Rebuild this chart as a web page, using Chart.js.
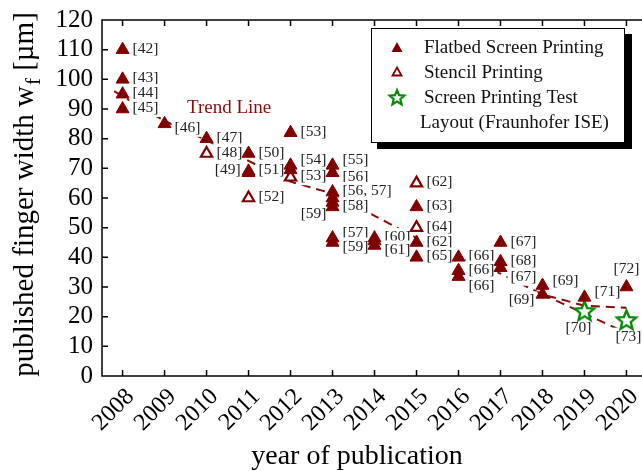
<!DOCTYPE html>
<html>
<head>
<meta charset="utf-8">
<script src="https://cdn.jsdelivr.net/npm/chart.js@4"></script>
<style>
  html, body { margin: 0; padding: 0; background: #fff; }
</style>
</head>
<body>
<canvas id="chart" width="642" height="471"></canvas>
<script>
const yearTicks = [2008, 2009, 2010, 2011, 2012, 2013, 2014, 2015, 2016, 2017, 2018, 2019, 2020];
const widthTicks = [0, 10, 20, 30, 40, 50, 60, 70, 80, 90, 100, 110, 120];

// flatbed screen printing (filled triangles)
const flatbedYear = [2008, 2008, 2008, 2008, 2009, 2010, 2011, 2011, 2011, 2012, 2012, 2012,
  2013, 2013, 2013, 2013, 2013, 2013, 2013, 2013, 2014, 2014, 2014, 2015, 2015, 2015,
  2016, 2016, 2016, 2017, 2017, 2017, 2018, 2018, 2019, 2020];
const flatbedWidth = [110, 100, 95, 90, 85, 80, 75, 69, 68.5, 82, 71, 69.5,
  71, 68.5, 62, 60, 58.5, 57, 46.5, 45, 46.5, 45.5, 44, 57, 45, 40,
  40, 35.5, 33.5, 45, 38.5, 36.5, 30.5, 27.5, 26.5, 30];
const flatbedRef = ['[42]', '[43]', '[44]', '[45]', '[46]', '[47]', '[50]', '[51]', '[49]', '[53]', '[54]', '',
  '[55]', '[56]', '[56, 57]', '', '[59]', '[58]', '[57]', '[59]', '[60]', '', '[61]', '[63]', '[62]', '[65]',
  '[66]', '[66]', '[66]', '[67]', '[68]', '[67]', '[69]', '[69]', '[71]', '[72]'];
const flatbedSide = ['r', 'r', 'r', 'r', 'rd', 'r', 'r', 'r', 'lu', 'r', 'ru', 'r',
  'ru', 'rd', 'r', 'r', 'lb', 'r', 'ru', 'rd', 'r', 'r', 'rd', 'r', 'r', 'r',
  'r', 'r', 'rb', 'r', 'r', 'rb', 'ru', 'ld', 'ru', 't'];

// stencil printing (open triangles)
const stencilYear = [2010, 2011, 2012, 2015, 2015];
const stencilWidth = [75, 60, 67, 65, 50];
const stencilRef = ['[48]', '[52]', '[53]', '[62]', '[64]'];
const stencilSide = ['r', 'r', 'r', 'r', 'r'];

// screen printing test layout (stars)
const testYear = [2019, 2020];
const testWidth = [22, 19];
const testRef = ['[70]', '[73]'];
const testSide = ['bl', 'br'];

// trend lines
const trendYear = [2007.8, 2009, 2010, 2011, 2012, 2013, 2014, 2015, 2016, 2017, 2018, 2019, 2020];
const trendWidth = [96, 86, 79.5, 72.5, 65.5, 61.5, 54, 46.5, 40, 34.5, 27.5, 23.7, 23];
const trend2Year = [2018, 2019, 2020];
const trend2Width = [27.5, 21, 14.5];

const RED = '#800000';
const GREEN = '#0a8a0a';
const SERIF = '"Liberation Serif", "Times New Roman", serif';

function pts(xs, ys) {
  return xs.map((x, i) => ({ x: x, y: ys[i] }));
}

function starPath(g, cx, cy, R, r) {
  g.beginPath();
  for (let i = 0; i < 10; i++) {
    const a = -Math.PI / 2 + i * Math.PI / 5;
    const rr = i % 2 ? r : R;
    const px = cx + rr * Math.cos(a), py = cy + rr * Math.sin(a);
    if (i === 0) g.moveTo(px, py); else g.lineTo(px, py);
  }
  g.closePath();
}

function makeStar(size, lw) {
  const c = document.createElement('canvas');
  c.width = c.height = size;
  const g = c.getContext('2d');
  starPath(g, size / 2, size / 2 + 1, size / 2 - lw, (size / 2 - lw) * 0.45);
  g.fillStyle = '#fff';
  g.fill();
  g.lineWidth = lw;
  g.strokeStyle = GREEN;
  g.stroke();
  return c;
}

const star = makeStar(25, 2.4);
const legendStar = makeStar(20, 2.2);

// label offsets: dx, dy, align
const OFFS = {
  r: [10, -1, 'left'], ru: [10, -5, 'left'], rd: [10, 4, 'left'], rb: [10, 9, 'left'],
  lu: [-8, -3, 'right'], ld: [-8, 6, 'right'], lb: [-6, 11, 'right'],
  t: [0, -18, 'center'], bl: [-6, 17, 'center'], br: [2, 17, 'center']
};

// labels go above the trend line but under the markers
const labelPlugin = {
  id: 'refLabels',
  afterDatasetDraw(chart, args) {
    if (args.index !== 3) return;
    const ctx = chart.ctx;
    ctx.save();
    ctx.font = '15.5px ' + SERIF;
    ctx.textBaseline = 'middle';
    [0, 1, 2].forEach(di => {
      const ds = chart.data.datasets[di];
      chart.getDatasetMeta(di).data.forEach((pt, i) => {
        const txt = ds.refs[i];
        if (!txt) return;
        const o = OFFS[ds.sides[i]];
        const x = pt.x + o[0], y = pt.y + o[1];
        const w = ctx.measureText(txt).width;
        const left = o[2] === 'left' ? x : (o[2] === 'right' ? x - w : x - w / 2);
        ctx.fillStyle = '#fff';
        ctx.fillRect(left - 3, y - 9, w + 6, 18);
        ctx.fillStyle = '#222';
        ctx.textAlign = o[2];
        ctx.fillText(txt, x, y);
      });
    });
    ctx.font = '19px ' + SERIF;
    ctx.fillStyle = '#8b0a0a';
    ctx.textAlign = 'left';
    ctx.fillText('Trend Line', 187, 108);
    ctx.restore();
  }
};

const framePlugin = {
  id: 'frame',
  afterDraw(chart) {
    const ctx = chart.ctx;
    const a = chart.chartArea;
    const xs = chart.scales.x, ys = chart.scales.y;
    ctx.save();
    ctx.strokeStyle = '#000';
    ctx.lineWidth = 1.5;
    ctx.beginPath();
    ctx.moveTo(a.right, a.top); ctx.lineTo(a.left, a.top);
    ctx.lineTo(a.left, a.bottom); ctx.lineTo(a.right, a.bottom);
    yearTicks.forEach(v => {
      const px = xs.getPixelForValue(v);
      ctx.moveTo(px, a.bottom); ctx.lineTo(px, a.bottom - 6);
      ctx.moveTo(px, a.top); ctx.lineTo(px, a.top + 6);
    });
    widthTicks.forEach(v => {
      const py = ys.getPixelForValue(v);
      ctx.moveTo(a.left, py); ctx.lineTo(a.left + 6, py);
    });
    ctx.stroke();

    // axis titles
    ctx.fillStyle = '#000';
    ctx.font = '28px ' + SERIF;
    ctx.textAlign = 'center';
    ctx.textBaseline = 'alphabetic';
    ctx.fillText('year of publication', 357, 464);

    ctx.translate(33, (a.top + a.bottom) / 2 - 3);
    ctx.rotate(-Math.PI / 2);
    const p1 = 'published finger width w', p2 = 'f', p3 = ' [\u00b5m]';
    ctx.font = '29px ' + SERIF;
    const w1 = ctx.measureText(p1).width, w3 = ctx.measureText(p3).width;
    ctx.font = '21px ' + SERIF;
    const w2 = ctx.measureText(p2).width;
    const x0 = -(w1 + w2 + w3) / 2;
    ctx.textAlign = 'left';
    ctx.font = '29px ' + SERIF;
    ctx.fillText(p1, x0, 0);
    ctx.font = '21px ' + SERIF;
    ctx.fillText(p2, x0 + w1 + 1, 7);
    ctx.font = '29px ' + SERIF;
    ctx.fillText(p3, x0 + w1 + w2 + 1, 0);
    ctx.restore();

    // legend box with shadow
    ctx.save();
    ctx.fillStyle = '#000';
    ctx.fillRect(377, 34, 255, 115);
    ctx.fillStyle = '#fff';
    ctx.fillRect(371, 28, 254, 115);
    ctx.strokeStyle = '#000';
    ctx.lineWidth = 1;
    ctx.strokeRect(371.5, 28.5, 253, 114);

    ctx.fillStyle = RED;
    ctx.beginPath();
    ctx.moveTo(397, 42); ctx.lineTo(402.5, 52); ctx.lineTo(391.5, 52); ctx.closePath();
    ctx.fill();
    ctx.strokeStyle = RED;
    ctx.lineWidth = 1.8;
    ctx.beginPath();
    ctx.moveTo(397, 67.5); ctx.lineTo(401.5, 75.5); ctx.lineTo(392.5, 75.5); ctx.closePath();
    ctx.stroke();
    ctx.drawImage(legendStar, 397 - 10, 97 - 10);

    ctx.fillStyle = '#111';
    ctx.font = '19px ' + SERIF;
    ctx.textAlign = 'left';
    ctx.textBaseline = 'middle';
    ctx.fillText('Flatbed Screen Printing', 424, 48);
    ctx.fillText('Stencil Printing', 424, 73);
    ctx.fillText('Screen Printing Test', 424, 98);
    ctx.fillText('Layout (Fraunhofer ISE)', 420, 123);
    ctx.restore();
  }
};

const ctx = document.querySelector('#chart').getContext('2d');

new Chart(ctx, {
  type: 'scatter',
  data: {
    datasets: [
      {
        label: 'Flatbed Screen Printing',
        data: pts(flatbedYear, flatbedWidth),
        refs: flatbedRef,
        sides: flatbedSide,
        pointStyle: 'triangle',
        pointRadius: 7.5,
        backgroundColor: RED,
        borderColor: RED,
        borderWidth: 1,
        clip: false,
        order: 0
      },
      {
        label: 'Stencil Printing',
        data: pts(stencilYear, stencilWidth),
        refs: stencilRef,
        sides: stencilSide,
        pointStyle: 'triangle',
        pointRadius: 6.5,
        backgroundColor: '#fff',
        borderColor: RED,
        borderWidth: 2.2,
        clip: false,
        order: 0
      },
      {
        label: 'Screen Printing Test Layout (Fraunhofer ISE)',
        data: pts(testYear, testWidth),
        refs: testRef,
        sides: testSide,
        pointStyle: star,
        pointRadius: 10,
        clip: false,
        order: 0
      },
      {
        label: 'Trend Line',
        data: pts(trendYear, trendWidth),
        showLine: true,
        borderColor: '#8b0a0a',
        borderWidth: 2,
        borderDash: [9, 6],
        pointRadius: 0,
        order: 10
      },
      {
        label: 'Trend Line 2',
        data: pts(trend2Year, trend2Width),
        showLine: true,
        borderColor: '#8b0a0a',
        borderWidth: 2,
        borderDash: [9, 6],
        pointRadius: 0,
        order: 10
      }
    ]
  },
  options: {
    responsive: false,
    animation: false,
    events: [],
    layout: { autoPadding: false, padding: { top: 20, right: 0, left: 0, bottom: 0 } },
    plugins: {
      legend: { display: false },
      tooltip: { enabled: false }
    },
    scales: {
      x: {
        type: 'linear',
        min: 2007.51,
        max: 2020.37,
        afterBuildTicks: s => { s.ticks = yearTicks.map(v => ({ value: v })); },
        afterFit: s => { s.height = 95; s.paddingLeft = 0; s.paddingRight = 0; },
        grid: { display: false, drawTicks: false },
        border: { display: false },
        ticks: {
          autoSkip: false,
          minRotation: 45,
          maxRotation: 45,
          padding: 7,
          labelOffset: 8,
          color: '#000',
          font: { family: SERIF, size: 24 },
          callback: v => String(v)
        }
      },
      y: {
        min: 0,
        max: 120,
        afterBuildTicks: s => { s.ticks = widthTicks.map(v => ({ value: v })); },
        afterFit: s => { s.width = 102; s.paddingTop = 0; s.paddingBottom = 0; },
        grid: { display: false, drawTicks: false },
        border: { display: false },
        ticks: {
          autoSkip: false,
          padding: 9,
          color: '#000',
          font: { family: SERIF, size: 25 },
          callback: v => String(v)
        }
      }
    }
  },
  plugins: [labelPlugin, framePlugin]
});
</script>
</body>
</html>
